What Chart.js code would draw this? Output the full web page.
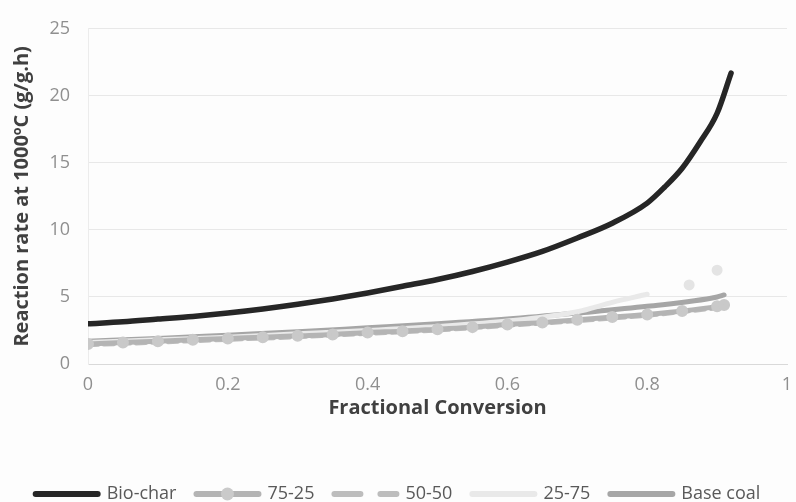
<!DOCTYPE html>
<html>
<head>
<meta charset="utf-8">
<script src="https://cdn.jsdelivr.net/npm/chart.js@4.4.1/dist/chart.umd.min.js"></script>
<style>
    html, body { margin: 0; padding: 0; background: #fdfdfd; }
    #wrap { width: 796px; height: 502px; position: relative; }
</style>
</head>
<body>
<div id="wrap"><canvas id="rateChart"></canvas></div>
<script>
// Valores
const seriesNames = ['Bio-char', '75-25', '50-50', '25-75', 'Base coal'];

const convBio = [0, 0.05, 0.1, 0.15, 0.2, 0.25, 0.3, 0.35, 0.4, 0.45, 0.5, 0.55, 0.6, 0.65, 0.7, 0.75, 0.8, 0.825, 0.85, 0.875, 0.9, 0.92];
const rateBio = [3.0, 3.15, 3.35, 3.55, 3.8, 4.1, 4.45, 4.85, 5.3, 5.8, 6.3, 6.9, 7.6, 8.4, 9.4, 10.5, 12.0, 13.2, 14.6, 16.5, 18.7, 21.7];

const conv7525 = [0, 0.05, 0.1, 0.15, 0.2, 0.25, 0.3, 0.35, 0.4, 0.45, 0.5, 0.55, 0.6, 0.65, 0.7, 0.75, 0.8, 0.85, 0.9, 0.91];
const rate7525 = [1.5, 1.6, 1.7, 1.8, 1.9, 2.0, 2.1, 2.2, 2.35, 2.45, 2.6, 2.75, 2.95, 3.1, 3.3, 3.5, 3.7, 3.95, 4.3, 4.4];

const conv5050 = [0, 0.1, 0.2, 0.3, 0.4, 0.5, 0.6, 0.7, 0.8, 0.9, 0.91];
const rate5050 = [1.4, 1.6, 1.8, 2.0, 2.25, 2.5, 2.85, 3.2, 3.6, 4.15, 4.2];

const conv2575 = [0, 0.1, 0.2, 0.3, 0.4, 0.5, 0.6, 0.7, 0.75, 0.8, 0.83, 0.86, 0.88, 0.9];
const rate2575 = [1.6, 1.8, 2.0, 2.25, 2.5, 2.8, 3.2, 3.9, 4.6, 5.2, null, 5.9, null, 7.0];

const convBase = [0, 0.1, 0.2, 0.3, 0.4, 0.5, 0.6, 0.7, 0.8, 0.9, 0.91];
const rateBase = [1.7, 1.9, 2.15, 2.4, 2.7, 3.0, 3.35, 3.8, 4.3, 5.0, 5.15];

const xTicks = [0, 0.2, 0.4, 0.6, 0.8, 1];
const xTickLabels = ['0', '0.2', '0.4', '0.6', '0.8', '1'];
const yTicks = [0, 5, 10, 15, 20, 25];

const toPoints = (xs, ys) => xs.map((x, i) => ({ x: x, y: ys[i] }));

// ponto isolado (sem vizinhos) recebe marcador
const isolatedRadius = (ctx) => {
    const d = ctx.dataset.data;
    const i = ctx.dataIndex;
    if (d[i] == null || d[i].y == null) return 0;
    const prev = d[i - 1], next = d[i + 1];
    const lonely = (!prev || prev.y == null) && (!next || next.y == null);
    return lonely ? 3 : 0;
};

const legendDash = { '50-50': [26, 20] };

const legendMarker = {
    id: 'legendMarker',
    afterDraw: (chart) => {
        const legend = chart.legend;
        if (!legend || !legend.legendHitBoxes) return;
        const idx = seriesNames.indexOf('75-25');
        const box = legend.legendHitBoxes[idx];
        if (!box) return;
        const { ctx } = chart;
        const bw = legend.options.labels.pointStyleWidth;
        ctx.save();
        ctx.fillStyle = '#cacaca';
        ctx.beginPath();
        ctx.arc(box.left + bw / 2, box.top + box.height / 2, 6.5, 0, Math.PI * 2);
        ctx.fill();
        ctx.restore();
    }
};

const ctx = document.getElementById('rateChart').getContext('2d');
const rateChart = new Chart(ctx, {
    type: 'line',
    data: {
        datasets: [
            {
                label: seriesNames[0], data: toPoints(convBio, rateBio),
                borderColor: '#262626', borderWidth: 5.5, pointRadius: 0,
                borderCapStyle: 'round', cubicInterpolationMode: 'monotone'
            },
            {
                label: seriesNames[1], data: toPoints(conv7525, rate7525),
                borderColor: '#b4b4b4', borderWidth: 5, pointRadius: 3.5,
                pointBackgroundColor: '#c9c9c9', pointBorderColor: '#c9c9c9',
                borderCapStyle: 'round', cubicInterpolationMode: 'monotone'
            },
            {
                label: seriesNames[2], data: toPoints(conv5050, rate5050),
                borderColor: '#bdbdbd', borderWidth: 4, borderDash: [10, 6], pointRadius: 0,
                borderCapStyle: 'round', cubicInterpolationMode: 'monotone'
            },
            {
                label: seriesNames[3], data: toPoints(conv2575, rate2575),
                borderColor: '#e9e9e9', borderWidth: 5, spanGaps: false,
                pointRadius: isolatedRadius, pointBackgroundColor: '#e4e4e4', pointBorderColor: '#e4e4e4',
                borderCapStyle: 'round', cubicInterpolationMode: 'monotone'
            },
            {
                label: seriesNames[4], data: toPoints(convBase, rateBase),
                borderColor: '#a6a6a6', borderWidth: 5, pointRadius: 0,
                borderCapStyle: 'round', cubicInterpolationMode: 'monotone'
            }
        ]
    },
    options: {
        responsive: true,
        maintainAspectRatio: false,
        animation: false,
        layout: { padding: { top: 24, left: 0, right: 0, bottom: -11 } },
        plugins: {
            tooltip: { enabled: false },
            legend: {
                position: 'bottom',
                labels: {
                    usePointStyle: true,
                    pointStyleWidth: 62,
                    padding: 20,
                    color: '#595959',
                    font: { family: '"Open Sans"', size: 18 },
                    generateLabels: (chart) => chart.data.datasets.map((ds, i) => ({
                        text: ds.label,
                        datasetIndex: i,
                        pointStyle: 'line',
                        strokeStyle: ds.borderColor,
                        fillStyle: ds.borderColor,
                        lineWidth: 6,
                        lineCap: 'round',
                        lineDash: legendDash[ds.label] || [],
                        fontColor: '#595959'
                    }))
                }
            }
        },
        scales: {
            x: {
                type: 'linear',
                min: 0, max: 1,
                afterBuildTicks: (scale) => { scale.ticks = xTicks.map(v => ({ value: v })); },
                afterFit: (scale) => {
                    scale.height = 101;
                    scale.paddingLeft = 0;
                    scale.paddingRight = 0;
                },
                grid: { display: false, drawTicks: false },
                border: { display: true, color: '#d9d9d9', width: 1 },
                ticks: {
                    padding: 10, color: '#8f8f8f',
                    font: { family: '"Open Sans"', size: 18 },
                    callback: (value, index) => xTickLabels[index]
                },
                title: {
                    display: true, text: 'Fractional Conversion', color: '#404040',
                    padding: { top: 0, bottom: 45 },
                    font: { family: '"Open Sans"', size: 20, weight: 'bold' }
                }
            },
            y: {
                min: 0, max: 25,
                afterBuildTicks: (scale) => { scale.ticks = yTicks.map(v => ({ value: v })); },
                afterFit: (scale) => { scale.width = 88; },
                grid: { color: '#e8e8e8', drawTicks: false },
                border: { display: true, color: '#ececec', width: 1 },
                ticks: {
                    padding: 18, color: '#8f8f8f',
                    font: { family: '"Open Sans"', size: 18 }
                },
                title: {
                    display: true, text: 'Reaction rate at 1000ºC (g/g.h)', color: '#404040',
                    padding: { top: 10, bottom: 0 },
                    font: { family: '"Open Sans"', size: 20, weight: 'bold' }
                }
            }
        }
    },
    plugins: [legendMarker]
});
</script>
</body>
</html>
